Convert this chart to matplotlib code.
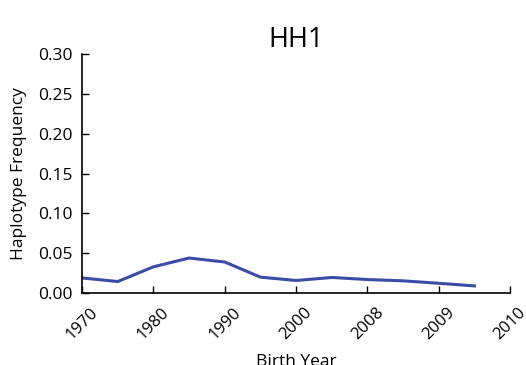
import matplotlib
matplotlib.use("Agg")
import matplotlib.pyplot as plt
import numpy as np

plt.rcParams["font.family"] = ["Open Sans", "DejaVu Sans"]

# Haplotype frequency by birth-year bin
positions = [0, 0.5, 1, 1.5, 2, 2.5, 3, 3.5, 4, 4.5, 5, 5.5]
frequency = [0.019, 0.0145, 0.033, 0.044, 0.039, 0.020, 0.0158, 0.0196, 0.017, 0.0154, 0.0123, 0.009]
tick_labels = ["1970", "1980", "1990", "2000", "2008", "2009", "2010"]
y_ticks = [0.00, 0.05, 0.10, 0.15, 0.20, 0.25, 0.30]

fig = plt.figure(figsize=(5.26, 3.65), dpi=100)
ax = fig.add_axes([0.156, 0.197, 0.814, 0.655])

ax.plot(positions, frequency, color="#3a4ca6", linewidth=2.2)

ax.set_xlim(0, 6)
ax.set_ylim(0, 0.30)
ax.set_xticks(range(len(tick_labels)))
ax.set_xticklabels(tick_labels, rotation=45, fontsize=12)
ax.set_yticks(y_ticks)
ax.set_yticklabels([f"{v:.2f}" for v in y_ticks], fontsize=12.5)
ax.tick_params(direction="in", length=5, width=1, top=False, right=False)
ax.tick_params(axis="x", pad=8)
ax.tick_params(axis="y", pad=7)

for side in ("top", "right"):
    ax.spines[side].set_visible(False)
for side in ("left", "bottom"):
    ax.spines[side].set_linewidth(1.2)

ax.set_title("HH1", fontsize=19.5, pad=5)
ax.set_ylabel("Haplotype Frequency", fontsize=12.5, labelpad=8)
ax.set_xlabel("Birth Year", fontsize=12.5, labelpad=8)

fig.savefig("out.png", dpi=100)
